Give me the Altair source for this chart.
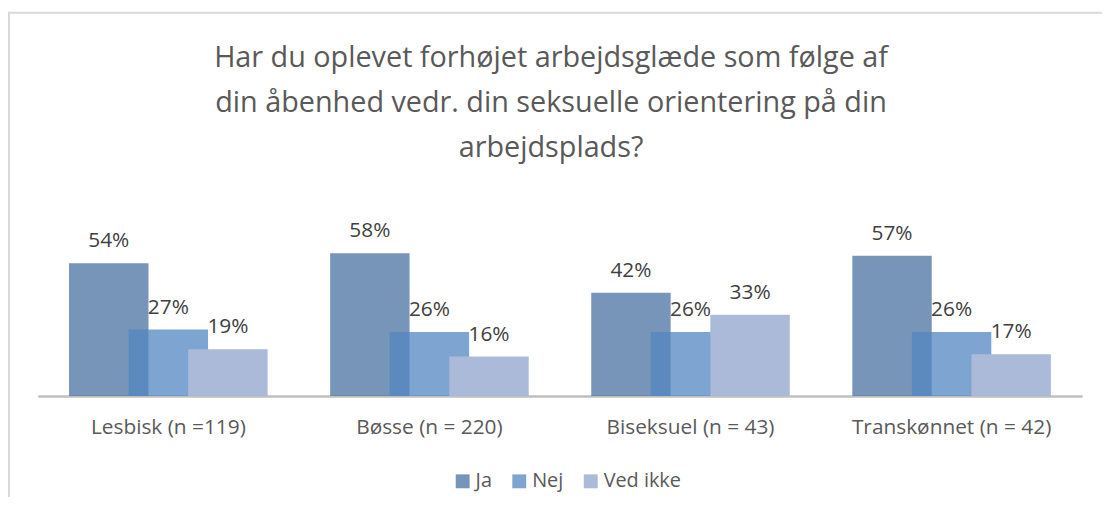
import altair as alt
import pandas as pd

categories = ["Lesbisk (n =119)", "Bøsse (n = 220)", "Biseksuel (n = 43)", "Transkønnet (n = 42)"]
series = ["Ja", "Nej", "Ved ikke"]
ja = [54, 58, 42, 57]
nej = [27, 26, 26, 26]
ved_ikke = [19, 16, 33, 17]
colors = ["#4971a1", "#5387c1", "#abbad8"]
opacities = [0.75, 0.75, 1.0]
title_lines = ["Har du oplevet forhøjet arbejdsglæde som følge af",
               "din åbenhed vedr. din seksuelle orientering på din",
               "arbejdsplads?"]

rows = []
for i, c in enumerate(categories):
    for s, vals in zip(series, [ja, nej, ved_ikke]):
        rows.append({"Kategori": c, "Svar": s, "Andel": vals[i]})
df = pd.DataFrame(rows)

FONT = "Open Sans"
W, H = 1052, 161

x_enc = alt.X("Kategori:N", sort=categories,
              scale=alt.Scale(paddingInner=0, paddingOuter=0),
              axis=alt.Axis(title=None, ticks=False, domainColor="#bfbfbf", domainWidth=2.5,
                            labelFont=FONT, labelFontSize=21, labelColor="#595959",
                            labelBaseline="alphabetic", labelPadding=38, labelAngle=0,
                            labelLimit=400))
xo_enc = alt.XOffset("Svar:N", sort=series,
                     scale=alt.Scale(paddingInner=0, paddingOuter=0.6917))
y_enc = alt.Y("Andel:Q", scale=alt.Scale(domain=[0, 65]), axis=None)

base = alt.Chart(df)

bars = base.mark_bar(size=80).encode(
    x=x_enc, xOffset=xo_enc, y=y_enc,
    color=alt.Color("Svar:N", sort=series,
                    scale=alt.Scale(domain=series, range=colors),
                    legend=alt.Legend(title=None, orient="none", direction="horizontal",
                                      legendX=418, legendY=237,
                                      symbolType="square", symbolSize=196, symbolStrokeWidth=0,
                                      labelFont=FONT, labelFontSize=20, labelColor="#595959",
                                      labelOffset=3, columnPadding=17)),
    opacity=alt.Opacity("Svar:N", sort=series,
                        scale=alt.Scale(type="ordinal", domain=series, range=opacities)),
)

labels = base.transform_calculate(txt="datum.Andel + '%'").mark_text(
    font=FONT, fontSize=21, color="#404040", baseline="alphabetic", dy=-16
).encode(x=x_enc, xOffset=xo_enc, y=y_enc, text="txt:N")

border = alt.Chart(alt.Data(values=[{}])).mark_rect(
    fill=None, stroke="#d9d9d9", strokeWidth=2
).encode(x=alt.value(-29), x2=alt.value(1200), y=alt.value(-225), y2=alt.value(400))

chart = alt.layer(border, bars, labels).properties(
    width=W, height=H,
    title=alt.TitleParams(text=title_lines, font=FONT, fontSize=29, fontWeight="normal",
                          color="#595959", lineHeight=45, anchor="middle", offset=-152, dx=-9,
                          frame="group"),
    autosize=alt.AutoSizeParams(type="none"),
    padding={"left": 30, "top": 228, "right": 20, "bottom": 100},
).configure_view(stroke=None)

chart.save("out.html", embed_options={"renderer": "svg", "actions": False})
